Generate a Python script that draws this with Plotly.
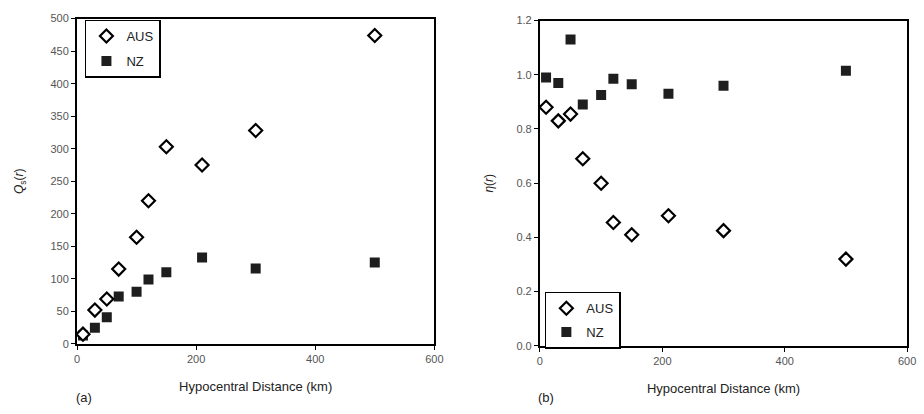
import plotly.graph_objects as go

# Hypocentral distance bins (km)
distance_km = [10, 30, 50, 70, 100, 120, 150, 210, 300, 500]

# Panel (a): Q_s(r)
qs_aus = [15, 52, 69, 115, 164, 220, 303, 275, 328, 474]
qs_nz = [13, 25, 41, 73, 80, 99, 110, 133, 116, 125]

# Panel (b): eta(r)
eta_aus = [0.88, 0.83, 0.855, 0.69, 0.60, 0.455, 0.41, 0.48, 0.425, 0.32]
eta_nz = [0.99, 0.97, 1.13, 0.89, 0.925, 0.985, 0.965, 0.93, 0.96, 1.015]

W, H = 924, 414
FONT = "Liberation Sans, Arial, sans-serif"
INK = "#222222"
TICK = "#555555"

aus_marker = dict(symbol="diamond", size=10, color="white",
                  line=dict(width=2.2, color="black"))
nz_marker = dict(symbol="square", size=10, color="#1e1e1e",
                 line=dict(width=0))

fig = go.Figure()

# panel (a)
fig.add_trace(go.Scatter(x=distance_km, y=qs_nz, mode="markers", name="NZ",
                         marker=nz_marker, xaxis="x", yaxis="y",
                         legend="legend", legendgroup="nz_a", legendrank=2))
fig.add_trace(go.Scatter(x=distance_km, y=qs_aus, mode="markers", name="AUS",
                         marker=aus_marker, xaxis="x", yaxis="y",
                         legend="legend", legendgroup="aus_a", legendrank=1))

# panel (b)
fig.add_trace(go.Scatter(x=distance_km, y=eta_nz, mode="markers", name="NZ",
                         marker=nz_marker, xaxis="x2", yaxis="y2",
                         legend="legend2", legendgroup="nz_b", legendrank=2))
fig.add_trace(go.Scatter(x=distance_km, y=eta_aus, mode="markers", name="AUS",
                         marker=aus_marker, xaxis="x2", yaxis="y2",
                         legend="legend2", legendgroup="aus_b", legendrank=1))


def px_x(p):
    return p / W


def px_y(p):
    return 1 - p / H


axis_common = dict(showline=True, mirror=True, linecolor="black", linewidth=2,
                   showgrid=False, zeroline=False, ticks="outside", ticklen=4,
                   tickcolor="black", tickfont=dict(family=FONT, size=11, color=TICK))

fig.update_layout(
    width=W, height=H,
    margin=dict(l=0, r=0, t=0, b=0),
    paper_bgcolor="white", plot_bgcolor="white",
    font=dict(family=FONT, color=INK),
    xaxis=dict(domain=[px_x(75), px_x(437)], range=[0, 600], dtick=200,
               anchor="y",
               title=dict(text="Hypocentral Distance (km)", standoff=18,
                          font=dict(family=FONT, size=13, color=INK)),
               **axis_common),
    yaxis=dict(domain=[px_y(348), px_y(13)], range=[0, 500], dtick=50,
               anchor="x",
               title=dict(text="<i>Q</i><sub>s</sub>(<i>r</i>)", standoff=24,
                          font=dict(family=FONT, size=12, color=INK)),
               **axis_common),
    xaxis2=dict(domain=[px_x(544), px_x(916)], range=[0, 600], dtick=200,
                anchor="y2",
                title=dict(text="Hypocentral Distance (km)", standoff=18,
                           font=dict(family=FONT, size=13, color=INK)),
                **axis_common),
    yaxis2=dict(domain=[px_y(350), px_y(15)], range=[0, 1.2], dtick=0.2,
                tickformat=".1f", anchor="x2",
                title=dict(text="<i>η</i>(<i>r</i>)", standoff=20,
                           font=dict(family=FONT, size=12, color=INK)),
                **axis_common),
    legend=dict(x=px_x(83), y=px_y(14), xanchor="left", yanchor="top",
                bgcolor="white", bordercolor="black", borderwidth=1.5,
                font=dict(family=FONT, size=13, color=INK),
                tracegroupgap=5, itemwidth=30,
                traceorder="grouped"),
    legend2=dict(x=px_x(549), y=px_y(353), xanchor="left", yanchor="bottom",
                 bgcolor="white", bordercolor="black", borderwidth=1.5,
                 font=dict(family=FONT, size=13, color=INK),
                 tracegroupgap=4, itemwidth=30,
                 traceorder="grouped"),
    annotations=[
        dict(text="(a)", x=px_x(72), y=px_y(403), xref="paper", yref="paper",
             xanchor="left", yanchor="middle", showarrow=False,
             font=dict(family=FONT, size=13, color=INK)),
        dict(text="(b)", x=px_x(540), y=px_y(403), xref="paper", yref="paper",
             xanchor="left", yanchor="middle", showarrow=False,
             font=dict(family=FONT, size=13, color=INK)),
    ],
)

fig.write_html("out.html")
